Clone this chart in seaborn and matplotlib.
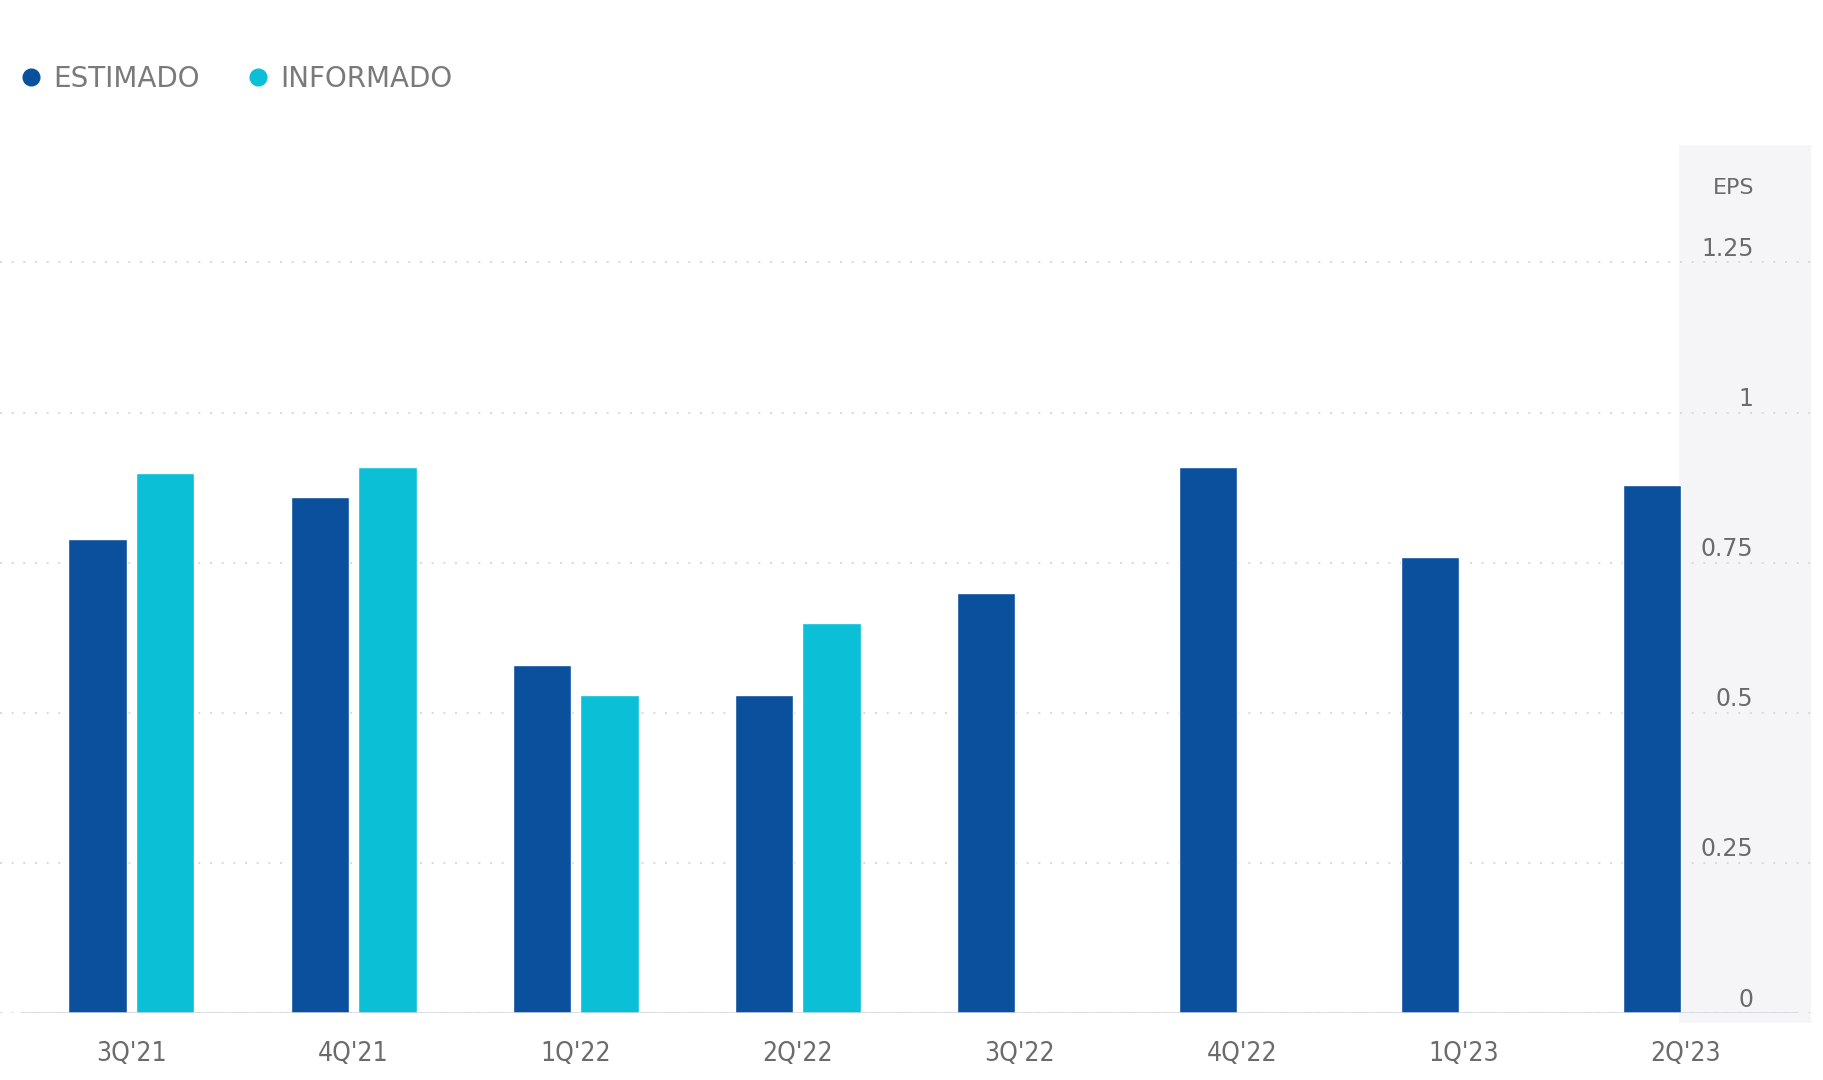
import numpy as np
import pandas as pd
import seaborn as sns
import matplotlib
matplotlib.use("Agg")
import matplotlib.pyplot as plt
from matplotlib.patches import Rectangle
from matplotlib.lines import Line2D
from matplotlib.transforms import ScaledTranslation

quarters = ["3Q'21", "4Q'21", "1Q'22", "2Q'22", "3Q'22", "4Q'22", "1Q'23", "2Q'23"]
estimado = [0.79, 0.86, 0.58, 0.53, 0.70, 0.91, 0.76, 0.88]
informado = [0.90, 0.91, 0.53, 0.65, np.nan, np.nan, np.nan, np.nan]
series_names = ["ESTIMADO", "INFORMADO"]
yticks = [0, 0.25, 0.5, 0.75, 1, 1.25]
ytick_labels = ["0", "0.25", "0.5", "0.75", "1", "1.25"]

colors = ["#0a509c", "#0bbfd7"]
text_grey = "#6b6b6b"

df = pd.DataFrame({
    "quarter": quarters * 2,
    "serie": [series_names[0]] * len(quarters) + [series_names[1]] * len(quarters),
    "eps": estimado + informado,
})

sns.set_theme(style="white")
plt.rcParams["font.family"] = ["DejaVu Sans"]

fig = plt.figure(figsize=(18.24, 10.80), dpi=100)
ax = fig.add_axes([0.0, 0.062, 0.993, 0.804])
ax.set_facecolor("none")

sns.barplot(data=df, x="quarter", y="eps", hue="serie", hue_order=series_names,
            order=quarters, palette=colors, width=0.61, gap=0.14,
            errorbar=None, ax=ax, legend=False, saturation=1, zorder=2)

ax.set_xlim(-0.592, 7.564)
ax.set_ylim(0, 1.446)
for s in ax.spines.values():
    s.set_visible(False)

# right grey panel
ax.add_patch(Rectangle((0.927, -0.012), 0.073, 1.012, transform=ax.transAxes,
                       facecolor="#f5f5f8", edgecolor="none", zorder=0.1, clip_on=False))

# grid
ax.set_yticks(yticks)
ax.set_yticklabels(ytick_labels)
ax.yaxis.grid(True, linestyle=(0, (1, 5)), color="#d9d9d9", linewidth=1.4)
ax.xaxis.grid(False)
ax.set_axisbelow(True)
ax.axhline(0, xmin=0.0116, xmax=0.992, color="#d0d5de", linewidth=1.8, zorder=3)

ax.tick_params(axis="y", left=False, right=False, labelleft=False, labelright=True,
               pad=-41.5, labelsize=17, labelcolor=text_grey, length=0)
offset = ScaledTranslation(0, 16 / 100, fig.dpi_scale_trans)
for tick in ax.yaxis.get_major_ticks():
    tick.label2.set_horizontalalignment("right")
    tick.label2.set_transform(tick.label2.get_transform() + offset)

ax.tick_params(axis="x", bottom=False, length=0, pad=20, labelsize=19, labelcolor=text_grey)
for lab in ax.get_xticklabels():
    lab.set_fontstretch("condensed")
ax.set_xlabel("")
ax.set_ylabel("")

ax.text(0.9685, 1.374, "EPS", transform=ax.get_yaxis_transform(), ha="right", va="center",
        fontsize=16, color=text_grey)

handles = [Line2D([], [], linestyle="none", marker="o", markersize=12,
                  markerfacecolor=c, markeredgecolor=c) for c in colors]
leg = fig.legend(handles, series_names, loc="center left", bbox_to_anchor=(0.011, 0.927),
                 ncol=2, frameon=False, handlelength=0.8, handletextpad=0.4,
                 columnspacing=1.7, borderpad=0, borderaxespad=0,
                 prop={"size": 20})
for t in leg.get_texts():
    t.set_color("#7a7a7a")

fig.savefig("out.png", dpi=100)
